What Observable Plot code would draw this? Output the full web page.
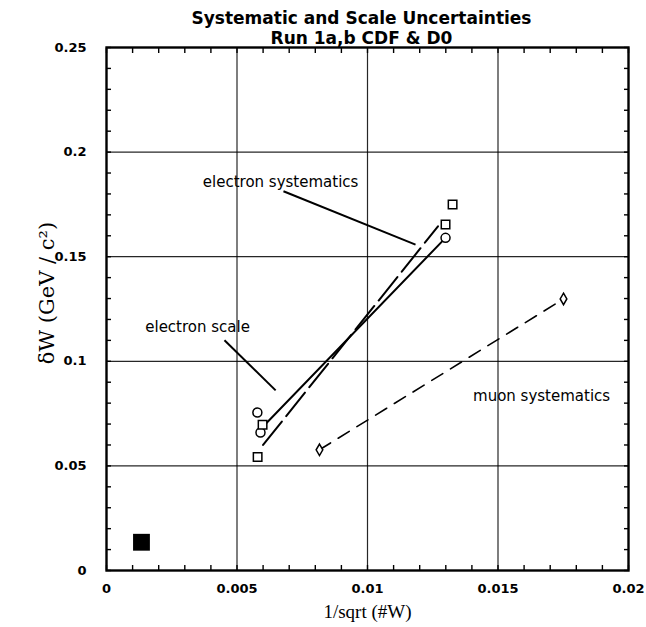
<!DOCTYPE html>
<html><head><meta charset="utf-8">
<script src="https://cdn.jsdelivr.net/npm/d3@7"></script>
<script src="https://cdn.jsdelivr.net/npm/@observablehq/plot@0.6"></script>
<style>body{margin:0;background:#fff}</style>
</head><body><div id="chart"></div>
<script>
const titleLines = ["Systematic and Scale Uncertainties", "Run 1a,b CDF & D0"];
const xLabel = "1/sqrt (#W)";
const yLabel = "δW (GeV / c²)";
const xTicks = [0, 0.005, 0.01, 0.015, 0.02];
const xTickLabels = ["0", "0.005", "0.01", "0.015", "0.02"];
const yTicks = [0, 0.05, 0.1, 0.15, 0.2, 0.25];
const yTickLabels = ["0", "0.05", "0.1", "0.15", "0.2", "0.25"];
const xMinor = d3.range(0, 21).map(i => i / 1000);
const yMinor = d3.range(0, 26).map(i => i / 100);

// electron scale (open circles)
const scaleX = [0.00578, 0.00590, 0.01299];
const scaleY = [0.0755, 0.0660, 0.1590];
const scaleLineX = [0.00590, 0.01299];
const scaleLineY = [0.0675, 0.1590];
// electron systematics (open squares)
const systX = [0.00579, 0.00598, 0.01299, 0.01326];
const systY = [0.0543, 0.0697, 0.1654, 0.1750];
const systLineX = [0.00600, 0.01270];
const systLineY = [0.0600, 0.1645];
// muon systematics (open diamonds)
const muonX = [0.00816, 0.01751];
const muonY = [0.0577, 0.1298];
// combined
const combX = [0.00134];
const combY = [0.0135];

// annotations
const noteText = ["electron systematics", "electron scale", "muon systematics"];
const noteX = [0.00667, 0.00349, 0.01667];
const noteY = [0.1856, 0.1163, 0.0832];
const leadX1 = [0.00678, 0.00452];
const leadY1 = [0.1813, 0.1101];
const leadX2 = [0.01184, 0.00648];
const leadY2 = [0.1558, 0.0861];

const pts = (xs, ys) => xs.map((x, i) => ({x, y: ys[i]}));
const notes = noteText.map((t, i) => ({t, x: noteX[i], y: noteY[i]}));
const leads = leadX1.map((x1, i) => ({x1, y1: leadY1[i], x2: leadX2[i], y2: leadY2[i]}));

const minorOpts = {tickFormat: () => "", label: null, tickSize: -5, strokeWidth: 1.4};
const sans = "DejaVu Sans, Liberation Sans, sans-serif";
const serif = "Liberation Serif, DejaVu Serif, serif";

const plot = Plot.plot({
  width: 646, height: 627,
  marginLeft: 106, marginRight: 18, marginTop: 47, marginBottom: 57,
  x: {domain: [0, 0.02]},
  y: {domain: [0, 0.25]},
  style: {background: "white", color: "black", fontFamily: sans, fontSize: "13px", fontWeight: "bold"},
  marks: [
    Plot.gridX(xTicks.slice(1, -1), {stroke: "black", strokeOpacity: 0.85, strokeWidth: 1.2}),
    Plot.gridY(yTicks.slice(1, -1), {stroke: "black", strokeOpacity: 0.85, strokeWidth: 1.2}),
    Plot.axisX(xMinor, {anchor: "bottom", ...minorOpts}),
    Plot.axisX(xMinor, {anchor: "top", ...minorOpts}),
    Plot.axisY(yMinor, {anchor: "left", ...minorOpts}),
    Plot.axisY(yMinor, {anchor: "right", ...minorOpts}),
    Plot.axisX(xTicks, {anchor: "bottom", tickSize: 0, tickPadding: 13, label: null,
      tickFormat: d => xTickLabels[xTicks.indexOf(d)]}),
    Plot.axisY(yTicks, {anchor: "left", tickSize: 0, tickPadding: 20, label: null,
      tickFormat: d => yTickLabels[yTicks.indexOf(d)]}),
    Plot.frame({stroke: "black", strokeWidth: 2.4}),
    Plot.line(pts(scaleLineX, scaleLineY), {x: "x", y: "y", stroke: "black", strokeWidth: 2}),
    Plot.line(pts(systLineX, systLineY), {x: "x", y: "y", stroke: "black", strokeWidth: 2, strokeDasharray: "30,7"}),
    Plot.line(pts(muonX, muonY), {x: "x", y: "y", stroke: "black", strokeWidth: 1.6, strokeDasharray: "13,9"}),
    Plot.link(leads, {x1: "x1", y1: "y1", x2: "x2", y2: "y2", stroke: "black", strokeWidth: 2}),
    Plot.dot(pts(scaleX, scaleY), {x: "x", y: "y", symbol: "circle", r: 4.5, stroke: "black", strokeWidth: 1.5, fill: "white"}),
    Plot.dot(pts(systX, systY), {x: "x", y: "y", symbol: "square", r: 4.8, stroke: "black", strokeWidth: 1.5, fill: "white"}),
    Plot.dot(pts(muonX, muonY), {x: "x", y: "y", symbol: "diamond", r: 3.5, stroke: "black", strokeWidth: 1.5, fill: "white"}),
    Plot.dot(pts(combX, combY), {x: "x", y: "y", symbol: "square", r: 9.5, fill: "black", stroke: "none"}),
    Plot.text(notes, {x: "x", y: "y", text: "t", fontFamily: sans, fontWeight: "normal", fontSize: 15}),
    Plot.text([titleLines[0]], {text: d => d, frameAnchor: "top", dx: -6, dy: -36,
      fontFamily: sans, fontWeight: "bold", fontSize: 17}),
    Plot.text([titleLines[1]], {text: d => d, frameAnchor: "top", dx: -6, dy: -16,
      fontFamily: sans, fontWeight: "bold", fontSize: 17}),
    Plot.text([xLabel], {text: d => d, frameAnchor: "bottom", dy: 47,
      fontFamily: serif, fontWeight: "normal", fontSize: 19}),
    Plot.text([yLabel], {text: d => d, frameAnchor: "left", textAnchor: "middle", dx: -59, dy: -16, rotate: -90,
      fontFamily: "DejaVu Serif, Liberation Serif, serif", fontWeight: "normal", fontSize: 21}),
  ]
});
document.getElementById("chart").appendChild(plot);
</script>
</body></html>
